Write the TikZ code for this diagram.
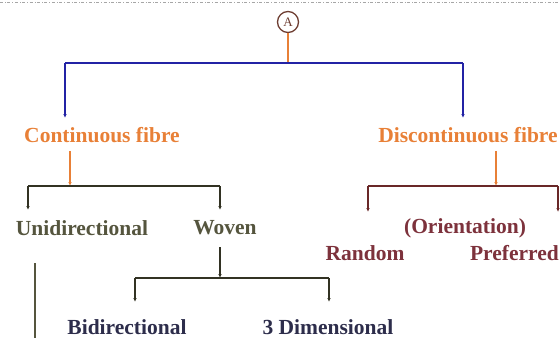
\documentclass[tikz,border=0pt]{standalone}
\usepackage{xcolor}
\usepackage{fontspec}
\setmainfont{Liberation Serif}
\usepackage{tikz}
\usetikzlibrary{arrows.meta}
\tikzset{>=stealth}
\definecolor{fibreorange}{RGB}{232,128,55}
\definecolor{topblue}{RGB}{35,35,165}
\definecolor{contline}{RGB}{50,50,35}
\definecolor{conttext}{RGB}{85,85,62}
\definecolor{discline}{RGB}{105,40,40}
\definecolor{disctext}{RGB}{125,50,60}
\definecolor{woventext}{RGB}{45,45,75}
\definecolor{ringline}{RGB}{110,62,50}

\begin{document}
\begin{tikzpicture}[x=1pt,y=-1pt,
    lbl/.style={font=\bfseries\fontsize{21.5}{24}\selectfont, inner sep=0pt},
    tip/.style={-{Latex[length=4pt,width=3.5pt]}},
    bar/.style={line width=1.4pt}]
      \useasboundingbox (0,0) rectangle (560,338);
      \draw[gray!70, dash dot, line width=0.5pt] (0,2) -- (560,2);
      % root
      \node[draw=ringline, line width=1.3pt, circle, minimum size=21pt, inner sep=0pt,
            text=ringline, font=\fontsize{13}{14}\selectfont] (A) at (288,22) {A};
      \coordinate (jA) at (288,63);
      \coordinate (tC) at (65,118);
      \coordinate (tD) at (463,118);
      \draw[fibreorange, line width=1.2pt] (A) -- (jA);
      \draw[topblue, line width=1.8pt] (tC |- jA) -- (tD |- jA);
      \draw[topblue, line width=1.8pt, tip] (tC |- jA) -- (tC);
      \draw[topblue, line width=1.8pt, tip] (tD |- jA) -- (tD);
      \node[lbl, text=fibreorange] (cont) at (102,135) {Continuous fibre};
      \node[lbl, text=fibreorange] (disc) at (468,135) {Discontinuous fibre};
      % continuous fibre
      \coordinate (jC) at (70,186);
      \draw[fibreorange, line width=1.2pt, tip] (cont.south -| jC) ++(0,8) -- (jC);
      \coordinate (tU) at (28,210);
      \coordinate (tW) at (220,210);
      \draw[contline, bar] (tU |- jC) -- (tW |- jC);
      \draw[contline, bar, tip] (tU |- jC) -- (tU);
      \draw[contline, bar, tip] (tW |- jC) -- (tW);
      \node[lbl, text=conttext] (uni) at (82,228) {Unidirectional};
      \node[lbl, text=conttext] (woven) at (225,228) {Woven};
      \coordinate (uEnd) at (35,338);
      \draw[conttext, line width=1.4pt] (uEnd |- 0,263) -- (uEnd);
      \coordinate (jW) at (220,278);
      \draw[contline, line width=1.2pt, tip] (woven.south -| jW) ++(0,12) -- (jW);
      \coordinate (tB) at (135,302);
      \coordinate (t3) at (329,302);
      \draw[contline, bar] (tB |- jW) -- (t3 |- jW);
      \draw[contline, bar, tip] (tB |- jW) -- (tB);
      \draw[contline, bar, tip] (t3 |- jW) -- (t3);
      \node[lbl, text=woventext] (bidir) at (127,327) {Bidirectional};
      \node[lbl, text=woventext] (dim3) at (328,327) {3 Dimensional};
      % discontinuous fibre
      \coordinate (jD) at (496,186);
      \draw[fibreorange, line width=1.2pt, tip] (disc.south -| jD) ++(0,8) -- (jD);
      \coordinate (tR) at (368,212);
      \coordinate (tP) at (558,212);
      \draw[discline, bar] (tR |- jD) -- (tP |- jD);
      \draw[discline, bar, tip] (tR |- jD) -- (tR);
      \draw[discline, bar, tip] (tP |- jD) -- (tP);
      \node[lbl, text=disctext] (orient) at (465,228) {(Orientation)};
      \node[lbl, text=disctext] (random) at (365,253) {Random};
      \node[lbl, text=disctext, anchor=east] (pref) at (559,253) {Preferred};
\end{tikzpicture}
\end{document}
